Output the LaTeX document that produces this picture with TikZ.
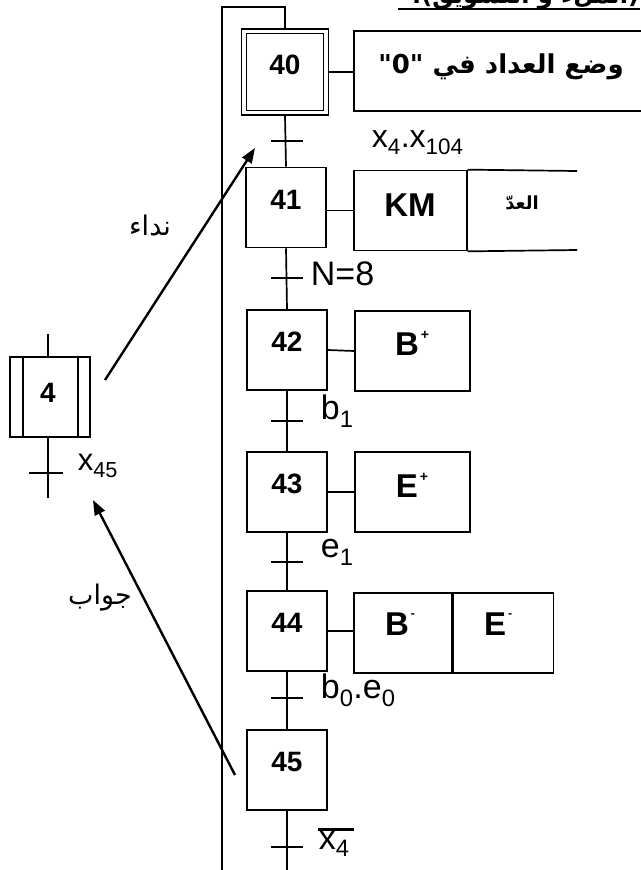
\documentclass[tikz,border=0pt]{standalone}
\usepackage{fontspec}
\setmainfont{Liberation Sans}
\newfontfamily\arabicfont[Script=Arabic]{DejaVu Sans}
\TeXXeTstate=1
\usetikzlibrary{arrows.meta}
\newcommand{\supplus}{\hspace{2pt}\raisebox{16pt}{\fontsize{14}{14}\selectfont\bfseries +}}
\newcommand{\supminus}{\hspace{2pt}\raisebox{18pt}{\fontsize{12}{12}\selectfont -}}
\begin{document}
\begin{tikzpicture}[x=1pt,y=-1pt,
  line width=1.7pt,
  stepbox/.style={draw, minimum width=80pt, minimum height=80pt, inner sep=0pt},
  actbox/.style={draw, minimum height=80pt, inner sep=0pt},
  numtxt/.style={inner sep=0pt, font=\bfseries\fontsize{28}{32}\selectfont},
  acttxt/.style={inner sep=0pt, font=\bfseries\fontsize{33}{38}\selectfont},
  trlbl/.style={inner sep=0pt, anchor=west, font=\fontsize{34}{38}\selectfont},
  arlbl/.style={inner sep=0pt, font=\arabicfont\fontsize{27}{31}\selectfont},
  tick/.style={line width=2pt},
  callarrow/.style={line width=2.4pt, -{Triangle[length=15pt,width=11pt]}}
]
\useasboundingbox (0,0) rectangle (640,870);

% title (cut off at top in the reference)
\coordinate (tl) at (398,9);
\coordinate (tr) at (640,9);
\draw[line width=1.8pt] (tl) -- (tr);
\node[anchor=base east, inner sep=0pt, font=\arabicfont\bfseries\fontsize{24}{28}\selectfont] (title) at (640,4) {\beginR(الملء و التسويق):\endR};

% initial step 40
\node[draw, minimum width=87pt, minimum height=86pt, inner sep=0pt] (s40o) at (285,72) {};
\node[stepbox, minimum width=77pt, minimum height=77pt] (s40) at (285,72) {};
\node[numtxt] (n40) at (285,65) {40};
\node[actbox, minimum width=300pt, anchor=west] (a40) at (353,71) {};
\node[acttxt, font=\arabicfont\bfseries\fontsize{26}{30}\selectfont] (t40) at (501,67) {\beginR وضع العداد في \beginL"0"\endL\endR};
\draw (s40o.east) -- (a40.west |- s40o.east);

% step 41
\node[stepbox] (s41) at (286,207.5) {};
\node[numtxt] (n41) at (286,200) {41};
\node[actbox, minimum width=113pt, anchor=west] (a41) at (353,210.5) {};
\node[acttxt] (t41) at (410,205) {KM};
\coordinate (a41tr) at (577,171);
\coordinate (a41br) at (577,250);
\draw (a41.north east) -- (a41tr);
\draw (a41.south east) -- (a41br);
\node[arlbl, font=\arabicfont\bfseries\fontsize{18}{21}\selectfont] (t41b) at (522,203) {\beginR العدّ\endR};
\draw (s41.east |- a41.west) -- (a41.west);

% step 42
\node[stepbox] (s42) at (287,350) {};
\node[numtxt] (n42) at (287,342) {42};
\node[actbox, minimum width=115pt, anchor=west] (a42) at (354,351) {};
\node[acttxt] (t42) at (412,343) {B\supplus};
\draw (s42.east) -- (a42.west);

% step 43
\node[stepbox] (s43) at (287,492) {};
\node[numtxt] (n43) at (287,484) {43};
\node[actbox, minimum width=115pt, anchor=west] (a43) at (354,492) {};
\node[acttxt] (t43) at (412,485) {E\supplus};
\draw (s43.east) -- (a43.west);

% step 44
\node[stepbox] (s44) at (287,631) {};
\node[numtxt] (n44) at (287,623) {44};
\node[actbox, minimum width=98pt, anchor=west] (a44) at (353,633) {};
\node[actbox, minimum width=100pt, anchor=west] (a44b) at (a44.east) {};
\node[acttxt] (t44) at (400,624) {B\supminus};
\node[acttxt] (t44b) at (498,624) {E\supminus};
\draw (s44.east) -- (s44.east -| a44.west);

% step 45
\node[stepbox] (s45) at (287,770) {};
\node[numtxt] (n45) at (287,762) {45};

% links between steps
\draw (s40o.south) -- (s41.north);
\draw (s41.south) -- (s42.north);
\draw (s42.south) -- (s43.north);
\draw (s43.south) -- (s44.north);
\draw (s44.south) -- (s45.north);
\coordinate (bot1) at (287,875);
\coordinate (bot2) at (222,875);
\coordinate (top1) at (222,7);
\coordinate (top2) at (s40o.north |- top1);
\draw (s45.south) -- (bot1);
\draw (bot2) -- (top1) -- (top2) -- (s40o.north);

% transitions
\draw[tick] (271,141) -- (303,141);
\draw[tick] (271,278) -- (303,278);
\draw[tick] (271,421) -- (303,421);
\draw[tick] (271,562) -- (303,562);
\draw[tick] (271,698) -- (303,698);
\draw[tick] (271,847) -- (303,847);

\node[trlbl, font=\fontsize{32}{36}\selectfont] (c1) at (371,143) {x\textsubscript{4}.x\textsubscript{104}};
\node[trlbl] (c2) at (310,274) {N=8};
\node[trlbl] (c3) at (320,411) {b\textsubscript{1}};
\node[trlbl] (c4) at (320,552) {e\textsubscript{1}};
\node[trlbl] (c5) at (320,690) {b\textsubscript{0}.e\textsubscript{0}};
\node[trlbl] (c6) at (318,844) {x\textsubscript{4}};
\draw[line width=2.8pt] (c6.north west) ++(0,-1) -- ++(36,0);

% step 4 (macro step)
\node[stepbox] (s4) at (50,397) {};
\node[numtxt] (n4) at (48,393) {4};
\draw (s4.north west) ++(14,0) -- ++(0,80);
\draw (s4.north east) ++(-13,0) -- ++(0,80);
\coordinate (s4top) at (48,334);
\coordinate (s4bot) at (48,498);
\draw (s4top) -- (s4top |- s4.north);
\draw (s4bot |- s4.south) -- (s4bot);
\draw[tick] (29,473) -- (63,473);
\node[trlbl, font=\fontsize{31}{35}\selectfont] (c45) at (77,466) {x\textsubscript{45}};

% call / answer arrows
\coordinate (callstart) at (105,380);
\coordinate (callend) at (255,148);
\draw[callarrow] (callstart) -- (callend);
\node[arlbl] (call) at (150,225) {\beginR نداء\endR};
\coordinate (ansstart) at (235,775);
\coordinate (ansend) at (93,500);
\draw[callarrow] (ansstart) -- (ansend);
\node[arlbl] (ans) at (100,598) {\beginR جواب\endR};
\end{tikzpicture}
\end{document}
